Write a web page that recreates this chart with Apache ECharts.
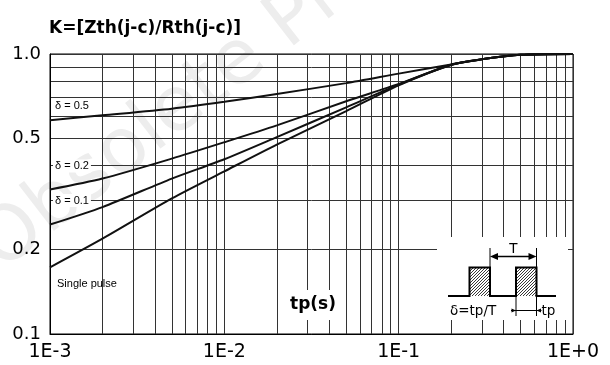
<!DOCTYPE html>
<html>
<head>
<meta charset="utf-8">
<script src="https://cdn.jsdelivr.net/npm/echarts@6/dist/echarts.min.js"></script>
<style>
html, body { margin: 0; padding: 0; background: #fff; }
#chart { width: 610px; height: 365px; }
</style>
</head>
<body>
<div id="chart"></div>
<script>
// pulse duration tp (s)
var tp = [0.001, 0.002, 0.005, 0.01, 0.02, 0.05, 0.1, 0.2, 0.3, 0.5, 1];
// K = Zth(j-c)/Rth(j-c)
var kDelta05 = [0.580, 0.604, 0.638, 0.675, 0.720, 0.787, 0.851, 0.918, 0.957, 0.993, 1.0];
var kDelta02 = [0.328, 0.359, 0.423, 0.484, 0.556, 0.678, 0.782, 0.916, 0.957, 0.993, 1.0];
var kDelta01 = [0.246, 0.284, 0.359, 0.421, 0.505, 0.645, 0.777, 0.915, 0.957, 0.993, 1.0];
var kSingle  = [0.173, 0.219, 0.305, 0.381, 0.475, 0.625, 0.773, 0.914, 0.957, 0.993, 1.0];

var xTickValues = [0.001, 0.01, 0.1, 1];
var xTickLabels = ['1E-3', '1E-2', '1E-1', '1E+0'];
var yTickValues = [0.1, 0.2, 0.5, 1];
var yTickLabels = ['0.1', '0.2', '0.5', '1.0'];
// log grid lines
var xGridValues = [0.001, 0.002, 0.003, 0.004, 0.005, 0.006, 0.007, 0.008, 0.009,
                   0.01, 0.02, 0.03, 0.04, 0.05, 0.06, 0.07, 0.08, 0.09,
                   0.1, 0.2, 0.3, 0.4, 0.5, 0.6, 0.7, 0.8, 0.9, 1];
var yGridValues = [0.1, 0.2, 0.3, 0.4, 0.5, 0.6, 0.7, 0.8, 0.9, 1];

function pickLabel(values, labels) {
    return function (v) {
        for (var i = 0; i < values.length; i++) {
            if (Math.abs(v / values[i] - 1) < 1e-6) return labels[i];
        }
        return '';
    };
}

function pairs(ys) {
    var out = [];
    for (var i = 0; i < tp.length; i++) out.push([tp[i], ys[i]]);
    return out;
}

// hatch pattern for the pulses
var pat = document.createElement('canvas');
pat.width = 3; pat.height = 3;
var pc = pat.getContext('2d');
pc.strokeStyle = '#222';
pc.lineWidth = 0.9;
pc.beginPath();
pc.moveTo(0, 3); pc.lineTo(3, 0);
pc.moveTo(-1, 1); pc.lineTo(1, -1);
pc.moveTo(2, 4); pc.lineTo(4, 2);
pc.stroke();

var chart = echarts.init(document.getElementById('chart'), null, { renderer: 'canvas' });

var curveStyle = { color: '#111', width: 2 };
function curve(name, ys) {
    return {
        name: name,
        type: 'line',
        data: pairs(ys),
        smooth: 0.25,
        symbol: 'none',
        silent: true,
        lineStyle: curveStyle,
        itemStyle: { color: '#111' }
    };
}

var txt = function (x, y, text, font, extra) {
    var st = { text: text, x: 0, y: 0, fill: '#000', font: font, align: 'left', verticalAlign: 'middle' };
    for (var k in extra || {}) st[k] = extra[k];
    return { type: 'text', x: x, y: y, z: 100, silent: true, style: st };
};
var seg = function (x1, y1, x2, y2, w) {
    return { type: 'line', z: 100, silent: true, shape: { x1: x1, y1: y1, x2: x2, y2: y2 }, style: { stroke: '#000', lineWidth: w || 1 } };
};
var tri = function (pts) {
    return { type: 'polygon', z: 100, silent: true, shape: { points: pts }, style: { fill: '#000' } };
};

var option = {
    animation: false,
    backgroundColor: '#fff',
    title: {
        text: 'K=[Zth(j-c)/Rth(j-c)]',
        left: 49,
        top: 20,
        padding: 0,
        textStyle: { fontFamily: 'DejaVu Sans', fontWeight: 'bold', fontSize: 17, color: '#000' }
    },
    grid: { left: 50, right: 37, top: 54, bottom: 31, show: true, borderColor: '#000', borderWidth: 1 },
    xAxis: {
        type: 'log',
        logBase: 10,
        min: 0.001,
        max: 1,
        axisLine: { show: true, lineStyle: { color: '#000', width: 1 } },
        axisTick: { show: false, customValues: xGridValues },
        splitLine: { show: true, lineStyle: { color: '#333', width: 1 } },
        axisLabel: {
            customValues: xTickValues,
            formatter: pickLabel(xTickValues, xTickLabels),
            fontFamily: 'DejaVu Sans',
            fontSize: 19,
            color: '#000',
            margin: 9,
            showMinLabel: true,
            showMaxLabel: true
        }
    },
    yAxis: {
        type: 'log',
        logBase: 10,
        min: 0.1,
        max: 1,
        axisLine: { show: true, lineStyle: { color: '#000', width: 1 } },
        axisTick: { show: false, customValues: yGridValues },
        splitLine: { show: true, lineStyle: { color: '#333', width: 1 } },
        axisLabel: {
            customValues: yTickValues,
            formatter: pickLabel(yTickValues, yTickLabels),
            fontFamily: 'DejaVu Sans',
            fontSize: 18,
            color: '#000',
            margin: 9,
            showMinLabel: true,
            showMaxLabel: true
        }
    },
    series: [
        curve('δ = 0.5', kDelta05),
        curve('δ = 0.2', kDelta02),
        curve('δ = 0.1', kDelta01),
        curve('Single pulse', kSingle)
    ],
    graphic: [
        // faint watermark
        {
            type: 'text', x: -11, y: 256, rotation: 0.658, z: -10, silent: true,
            style: { text: 'Obsolete Product(s)', fill: '#ededed', font: '76px "DejaVu Sans"', align: 'left', verticalAlign: 'middle' }
        },
        // curve labels
        txt(53, 106, 'δ = 0.5', '11px "Liberation Sans"', { backgroundColor: '#fff', padding: [1, 2] }),
        txt(53, 166, 'δ = 0.2', '11px "Liberation Sans"', { backgroundColor: '#fff', padding: [1, 2] }),
        txt(53, 200.5, 'δ = 0.1', '11px "Liberation Sans"', { backgroundColor: '#fff', padding: [1, 2] }),
        txt(57, 284, 'Single pulse', '11px "Liberation Sans"'),
        // axis name tp(s)
        { type: 'rect', z: 99, silent: true, shape: { x: 286, y: 290, width: 54, height: 30 }, style: { fill: '#fff' } },
        txt(313, 305, 'tp(s)', 'bold 17px "DejaVu Sans"', { align: 'center' }),
        // inset: pulse train
        { type: 'rect', z: 99, silent: true, shape: { x: 437, y: 237, width: 131, height: 83 }, style: { fill: '#fff' } },
        { type: 'rect', z: 100, silent: true, shape: { x: 469.5, y: 267.5, width: 20.5, height: 28.5 }, style: { fill: { image: pat, repeat: 'repeat' } } },
        { type: 'rect', z: 100, silent: true, shape: { x: 516, y: 267.5, width: 20.5, height: 28.5 }, style: { fill: { image: pat, repeat: 'repeat' } } },
        {
            type: 'polyline', z: 101, silent: true,
            shape: { points: [[448, 296], [469.5, 296], [469.5, 267.5], [490, 267.5], [490, 296], [516, 296], [516, 267.5], [536.5, 267.5], [536.5, 296], [556, 296]] },
            style: { stroke: '#000', lineWidth: 2, fill: null }
        },
        seg(490, 248, 490, 267),
        seg(536.5, 248, 536.5, 267),
        seg(496, 256.5, 531, 256.5, 1.5),
        tri([[490, 256.5], [498, 253], [498, 260]]),
        tri([[536.5, 256.5], [528.5, 253], [528.5, 260]]),
        txt(513.3, 256, 'T', '13.5px "DejaVu Sans"', { align: 'center', verticalAlign: 'bottom' }),
        seg(516, 297, 516, 316),
        seg(536.5, 297, 536.5, 316),
        seg(511, 310.5, 541.5, 310.5),
        tri([[516, 310.5], [511.5, 308.5], [511.5, 312.5]]),
        tri([[536.5, 310.5], [541, 308.5], [541, 312.5]]),
        txt(450, 311.5, 'δ=tp/T', '13.5px "DejaVu Sans"'),
        txt(541.5, 311.5, 'tp', '13.5px "DejaVu Sans"')
    ]
};

chart.setOption(option);
</script>
</body>
</html>
